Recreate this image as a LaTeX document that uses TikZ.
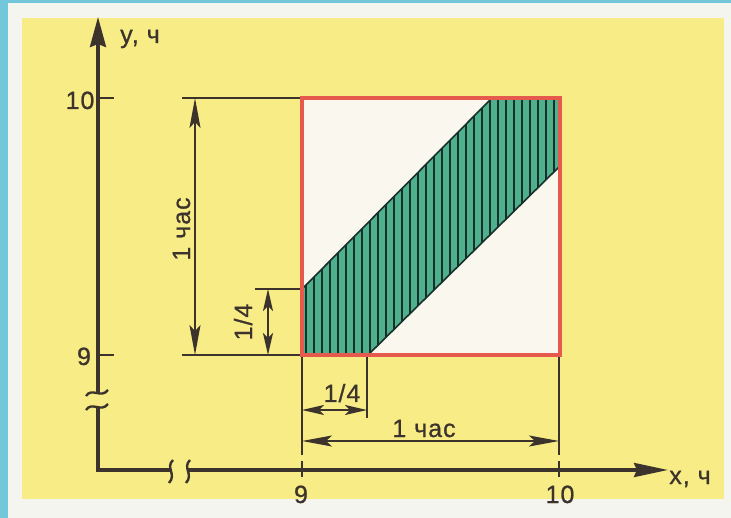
\documentclass[tikz,border=0pt]{standalone}
\usepackage{fontspec}
\setmainfont{Liberation Sans}
\usetikzlibrary{arrows.meta}
\definecolor{bgyellow}{HTML}{F8EC86}
\definecolor{bgblue}{HTML}{72C8DA}
\definecolor{bgwhite}{HTML}{F3F5EE}
\definecolor{ink}{HTML}{3B332C}
\definecolor{sqred}{HTML}{E65A4E}
\definecolor{sqin}{HTML}{FAF8EE}
\definecolor{bandc}{HTML}{4FB08E}
\definecolor{hatchc}{HTML}{17302A}
\begin{document}
\begin{tikzpicture}[x=1pt,y=-1pt,
  lbl/.style={font=\fontsize{25}{25}\selectfont\addfontfeature{LetterSpace=4,FakeBold=0.8}, text=ink, inner sep=0pt, anchor=base},
  axisline/.style={draw=ink, line width=3.4pt},
  breakmark/.style={draw=ink, line width=2.4pt},
  ext/.style={draw=ink, line width=1.8pt},
  dimlong/.style={draw=ink, line width=1.8pt, {Stealth[length=30pt,width=11pt,inset=6pt]}-{Stealth[length=30pt,width=11pt,inset=6pt]}},
  dimshort/.style={draw=ink, line width=1.8pt, {Stealth[length=22pt,width=10pt,inset=5pt]}-{Stealth[length=22pt,width=10pt,inset=5pt]}},
  hatchline/.style={draw=hatchc, line width=1.4pt}]
\useasboundingbox (0,0) rectangle (731,518);
% background
\fill[bgwhite] (0,0) rectangle (731,518);
\fill[bgblue] (0,0) rectangle (8,518);
\fill[bgblue] (0,0) rectangle (731,3);
\fill[bgyellow] (22,18) rectangle (724,499);

% key points
\coordinate (O) at (98,470);
\coordinate (SW) at (302,355);
\coordinate (SE) at (560,355);
\coordinate (NE) at (560,98);
\coordinate (NW) at (302,98);
\coordinate (U1) at (302,289);
\coordinate (U2) at (492,98);
\coordinate (L1) at (368,355);
\coordinate (L2) at (560,166);

% square interior and band
\fill[sqin] (SW) rectangle (NE);
\fill[bandc] (U1) -- (U2) -- (NE) -- (L2) -- (L1) -- (SW) -- cycle;
\begin{scope}
  \clip (U1) -- (U2) -- (NE) -- (L2) -- (L1) -- (SW) -- cycle;
  \foreach \x in {306,314,...,562} \draw[hatchline] (\x,90) -- (\x,362);
\end{scope}
\draw[hatchline, line width=1.6pt] (U1) -- (U2);
\draw[hatchline, line width=1.6pt] (L1) -- (L2);
\draw[draw=sqred, line width=4pt] (SW) rectangle (NE);

% axes
\coordinate (Ytip) at (98,17);
\coordinate (Yb1) at (98,407);
\coordinate (Yb2) at (98,393);
\coordinate (Xtip) at (668,470);
\coordinate (Xb1) at (171,470);
\coordinate (Xb2) at (187,470);
\draw[axisline] (Yb1) -- (O) -- (Xb1);
\draw[axisline, -{Stealth[length=30pt,width=16pt,inset=3pt]}] (Yb2) -- (Ytip);
\draw[axisline, -{Stealth[length=34pt,width=14pt,inset=3pt]}] (Xb2) -- (Xtip);
% breaks
\draw[breakmark] (86,396) .. controls (92,387) and (101,399) .. (108,390);
\draw[breakmark] (86,410) .. controls (92,401) and (101,413) .. (108,404);
\draw[breakmark] (173,460) .. controls (165,468) and (177,474) .. (169,483);
\draw[breakmark] (190,460) .. controls (182,468) and (194,474) .. (186,483);
% ticks
\draw[axisline, line width=2.6pt] (98,98) -- (114,98);
\draw[axisline, line width=2.6pt] (98,355) -- (114,355);
\draw[axisline, line width=2.6pt] (302,461) -- (302,477);
\draw[axisline, line width=2.6pt] (559,461) -- (559,477);

% extension lines
\coordinate (eTop) at (182,98);
\coordinate (eBot) at (182,355);
\coordinate (eQ) at (255,289);
\coordinate (eL) at (302,455);
\coordinate (eR) at (559,455);
\coordinate (eQx) at (367,418);
\draw[ext] (eTop) -- (300,98);
\draw[ext] (eBot) -- (300,355);
\draw[ext] (eQ) -- (300,289);
\draw[ext] (302,357) -- (eL);
\draw[ext] (559,357) -- (eR);
\draw[ext] (367,357) -- (eQx);

% dimension arrows
\coordinate (d1a) at (195,98);  \coordinate (d1b) at (195,355);
\coordinate (d2a) at (268,289); \coordinate (d2b) at (268,355);
\coordinate (d3a) at (302,410); \coordinate (d3b) at (367,410);
\coordinate (d4a) at (302,441); \coordinate (d4b) at (559,441);
\draw[dimlong] (d1a) -- (d1b);
\draw[dimshort] (d2a) -- (d2b);
\draw[dimshort] (d3a) -- (d3b);
\draw[dimlong] (d4a) -- (d4b);

% labels
\node[lbl] (ylab) at (140,43) {y, ч};
\node[lbl] (xlab) at (690,484) {x, ч};
\node[lbl] (y10) at (80,109) {10};
\node[lbl] (y9) at (84,365) {9};
\node[lbl] (x9) at (301,503) {9};
\node[lbl] (x10) at (560,503) {10};
\node[lbl] (q1) at (342,402) {1/4};
\node[lbl] (h1) at (424,437) {1 час};
\node[lbl, rotate=90] (h2) at (190,229) {1 час};
\node[lbl, rotate=90] (q2) at (252,322) {1/4};
\end{tikzpicture}
\end{document}
